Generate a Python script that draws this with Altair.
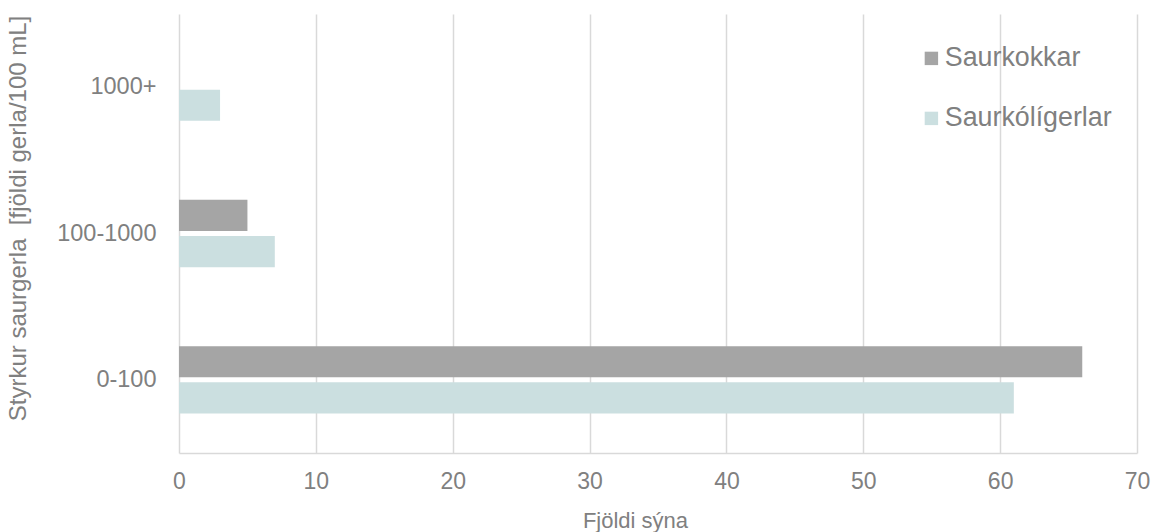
import altair as alt
import pandas as pd

categories = ["1000+", "100-1000", "0-100"]
series = ["Saurkokkar", "Saurkólígerlar"]
saurkokkar = [0, 5, 66]
saurkoligerlar = [3, 7, 61]
colors = ["#a5a5a5", "#cbdfe0"]
x_ticks = [0, 10, 20, 30, 40, 50, 60, 70]

rows = []
for c, a, b in zip(categories, saurkokkar, saurkoligerlar):
    rows.append({"cat": c, "series": series[0], "value": a})
    rows.append({"cat": c, "series": series[1], "value": b})
df = pd.DataFrame(rows)

FONT = "Liberation Sans"
TXT = "#808080"

chart = alt.Chart(df).mark_bar().encode(
    y=alt.Y("cat:N", sort=categories,
            scale=alt.Scale(paddingInner=0.54, paddingOuter=0.27),
            axis=alt.Axis(title="Styrkur saurgerla \u00a0[fjöldi gerla/100 mL]",
                          ticks=False, domain=False, labelPadding=23,
                          labelFontSize=23.5, labelColor=TXT, labelFont=FONT,
                          titleFontSize=24, titleColor=TXT, titleFont=FONT,
                          titleFontWeight="normal",
                          titleX=-161, titleY=204, titleAngle=270,
                          titleAlign="center", titleBaseline="middle")),
    yOffset=alt.YOffset("series:N", sort=series,
                        scale=alt.Scale(paddingInner=0.14, paddingOuter=0)),
    x=alt.X("value:Q", scale=alt.Scale(domain=[0, 70]),
            axis=alt.Axis(title="Fjöldi sýna", values=x_ticks, ticks=False,
                          labelFlush=False,
                          domainColor="#d9d9d9", domainWidth=1.5,
                          grid=True, gridColor="#d9d9d9", gridWidth=1.5,
                          labelPadding=17, labelFontSize=23, labelColor=TXT,
                          labelFont=FONT, titleFontSize=22, titleColor=TXT,
                          titleFont=FONT, titleFontWeight="normal",
                          titleX=456, titleY=67, titleBaseline="middle")),
    color=alt.Color("series:N", sort=series,
                    scale=alt.Scale(domain=series, range=colors),
                    legend=alt.Legend(title=None, orient="none",
                                      legendX=739, legendY=31,
                                      symbolType="square", symbolSize=180,
                                      symbolStrokeWidth=0, symbolOpacity=1,
                                      labelFontSize=26.8, labelColor=TXT,
                                      labelFont=FONT, labelOffset=0,
                                      labelLimit=400,
                                      rowPadding=32, padding=0)),
).properties(
    width=958, height=439,
    background="white",
    autosize=alt.AutoSizeParams(type="none"),
    padding={"left": 179, "top": 14, "right": 23, "bottom": 79},
).configure_view(strokeWidth=0)

chart.save("out.html", embed_options={"renderer": "svg", "actions": False})
